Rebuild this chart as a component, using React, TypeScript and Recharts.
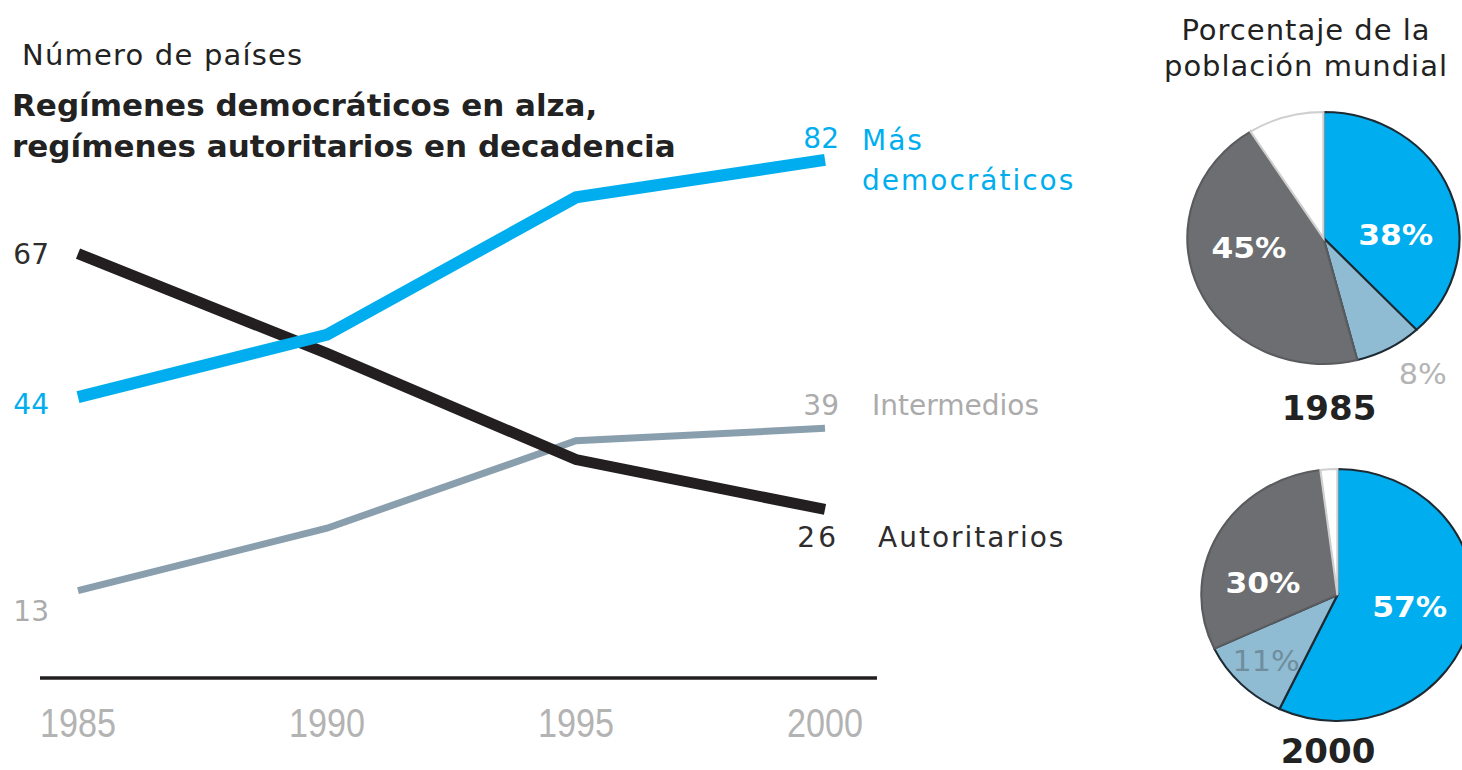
import React from 'react';
import { LineChart, Line, XAxis, YAxis, LabelList, PieChart, Pie, Cell } from 'recharts';

// ---- data ----
const years = ['1985', '1990', '1995', '2000'];
const masDemocraticos = [44, 54, 76, 82];
const intermedios = [13, 23, 37, 39];
const autoritarios = [67, 51, 34, 26];

const pieCategories = ['Más democráticos', 'Intermedios', 'Autoritarios', 'Otros'];
const share1985 = [38, 8, 45, 9];
const share2000 = [57, 11, 30, 2];

const lineData = years.map((y, i) => ({
  year: y,
  dem: masDemocraticos[i],
  inter: intermedios[i],
  aut: autoritarios[i],
}));
const pie1985 = pieCategories.map((n, i) => ({ name: n, value: share1985[i] }));
const pie2000 = pieCategories.map((n, i) => ({ name: n, value: share2000[i] }));

// ---- styles ----
const FONT = '"DejaVu Sans", "Noto Sans", sans-serif';
const NARROW = '"Liberation Sans", "DejaVu Sans Condensed", sans-serif';
const BLUE = '#00AEEF';
const DARK = '#231F20';
const GREYLINE = '#8A9FAD';
const LIGHTTXT = '#ABABAB';

const pieFills = [BLUE, '#8FBCD3', '#6D6E71', '#FFFFFF'];
const pieStrokes = ['#1E2A33', '#1E2A33', '#5A5B5E', '#CFCFCF'];

type SeriesStyle = {
  color: string;
  leftDy: number;
  rightDy: number;
  names: { text: string; dx: number; dy: number; ls: number }[];
  series: number[];
};

const styles: Record<string, SeriesStyle> = {
  dem: {
    color: BLUE,
    leftDy: 17,
    rightDy: -12,
    series: masDemocraticos,
    names: [
      { text: 'Más', dx: 37, dy: -10, ls: 2 },
      { text: 'democráticos', dx: 37, dy: 30, ls: 2 },
    ],
  },
  inter: {
    color: LIGHTTXT,
    leftDy: 30,
    rightDy: -13,
    series: intermedios,
    names: [{ text: 'Intermedios', dx: 47, dy: -13, ls: 0 }],
  },
  aut: {
    color: '#2E2C2D',
    leftDy: 10,
    rightDy: 38,
    series: autoritarios,
    names: [{ text: 'Autoritarios', dx: 53, dy: 38, ls: 2 }],
  },
};

const makeLabel = (key: string) => (props: any) => {
  const st = styles[key];
  const { x, y, value } = props;
  const idx = props.index ?? st.series.indexOf(value);
  if (idx === 0) {
    return (
      <text x={x - 29} y={y + st.leftDy} textAnchor="end" fontFamily={FONT} fontSize={28} fill={st.color}>
        {value}
      </text>
    );
  }
  if (idx === st.series.length - 1) {
    return (
      <g>
        <text x={x + 14} y={y + st.rightDy} textAnchor="end" fontFamily={FONT} fontSize={28} fill={st.color} letterSpacing={key === 'aut' ? 3 : 0}>
          {value}
        </text>
        {st.names.map((n, i) => (
          <text key={i} x={x + n.dx} y={y + n.dy} fontFamily={FONT} fontSize={28} fill={st.color} letterSpacing={n.ls}>
            {n.text}
          </text>
        ))}
      </g>
    );
  }
  return null;
};

const YearTick = (props: any) => {
  const { x, y, payload } = props;
  return (
    <text
      x={x - 38}
      y={y + 59}
      fontFamily={NARROW}
      fontSize={41}
      fill="#B3B3B3"
      textLength={76}
      lengthAdjust="spacingAndGlyphs"
    >
      {payload.value}
    </text>
  );
};

// label offsets from the pie centre (text centre), per slice
const labelPos1985: ([number, number] | null)[] = [[67, -3], [92, 136], [-69, 10], null];
const labelPos2000: ([number, number] | null)[] = [[67, 12], [-66, 66], [-69, -12], null];
const labelColor = ['#FFFFFF', null, '#FFFFFF', null];

const makePieLabel = (pos: ([number, number] | null)[], lightColor: string) => (props: any) => {
  const { cx, cy, index, value } = props;
  const p = pos[index];
  if (!p) return null;
  const c = labelColor[index] ?? lightColor;
  const bold = index !== 1;
  return (
    <text
      x={cx + p[0]}
      y={cy + p[1]}
      textAnchor="middle"
      dominantBaseline="central"
      fontFamily={FONT}
      fontSize={bold ? 29 : 28}
      fontWeight={bold ? 700 : 400}
      fill={c}
    >
      {value}%
    </text>
  );
};

const PIE_SCALE = 'scaleX(1.08)';
const PIE_BOX = 340;
const PIE_C = PIE_BOX / 2;

export default function App() {
  return (
    <div style={{ position: 'fixed', left: 0, top: 0, width: 1462, height: 770, overflow: 'hidden', background: '#fff' }}>
      <div style={{ position: 'absolute', left: 0, top: 0 }}>
        <LineChart width={1120} height={770} data={lineData} margin={{ top: 110, right: 243, bottom: 32, left: 40 }}>
          <XAxis
            dataKey="year"
            scale="point"
            padding={{ left: 38, right: 52 }}
            height={60}
            tickLine={false}
            tickSize={0}
            tickMargin={0}
            axisLine={{ stroke: DARK, strokeWidth: 3.5 }}
            tick={<YearTick />}
            interval={0}
          />
          <YAxis hide domain={[-1, 90]} allowDataOverflow />
          <Line dataKey="inter" stroke={GREYLINE} strokeWidth={7} dot={false} isAnimationActive={false} strokeLinecap="butt">
            <LabelList dataKey="inter" content={makeLabel('inter')} />
          </Line>
          <Line dataKey="aut" stroke={DARK} strokeWidth={11} dot={false} isAnimationActive={false} strokeLinecap="butt">
            <LabelList dataKey="aut" content={makeLabel('aut')} />
          </Line>
          <Line dataKey="dem" stroke={BLUE} strokeWidth={12} dot={false} isAnimationActive={false} strokeLinecap="butt">
            <LabelList dataKey="dem" content={makeLabel('dem')} />
          </Line>
        </LineChart>
      </div>

      <div style={{ position: 'absolute', left: 1318 - PIE_C, top: 233 - PIE_C, transform: PIE_SCALE, transformOrigin: `${PIE_C}px ${PIE_C}px` }}>
        <PieChart width={PIE_BOX} height={PIE_BOX}>
          <Pie
            data={pie1985}
            dataKey="value"
            nameKey="name"
            cx={PIE_C}
            cy={PIE_C}
            outerRadius={126}
            startAngle={90}
            endAngle={-270}
            isAnimationActive={false}
            labelLine={false}
            label={makePieLabel(labelPos1985, '#B4B4B4')}
          >
            {pie1985.map((d, i) => (
              <Cell key={d.name} fill={pieFills[i]} stroke={pieStrokes[i]} strokeWidth={2} />
            ))}
          </Pie>
        </PieChart>
      </div>

      <div style={{ position: 'absolute', left: 1332 - PIE_C, top: 590 - PIE_C, transform: PIE_SCALE, transformOrigin: `${PIE_C}px ${PIE_C}px` }}>
        <PieChart width={PIE_BOX} height={PIE_BOX}>
          <Pie
            data={pie2000}
            dataKey="value"
            nameKey="name"
            cx={PIE_C}
            cy={PIE_C}
            outerRadius={126}
            startAngle={90}
            endAngle={-270}
            isAnimationActive={false}
            labelLine={false}
            label={makePieLabel(labelPos2000, '#6F8D9D')}
          >
            {pie2000.map((d, i) => (
              <Cell key={d.name} fill={pieFills[i]} stroke={pieStrokes[i]} strokeWidth={2} />
            ))}
          </Pie>
        </PieChart>
      </div>

      <svg width={1462} height={770} style={{ position: 'absolute', left: 0, top: 0, pointerEvents: 'none' }}>
        <text x={22} y={65} fontFamily={FONT} fontSize={29} letterSpacing={1.2} fill="#222">
          Número de países
        </text>
        <text x={12} y={116} fontFamily={FONT} fontSize={31} fontWeight={700} fill="#222">
          Regímenes democráticos en alza,
        </text>
        <text x={12} y={157} fontFamily={FONT} fontSize={31} fontWeight={700} fill="#222">
          regímenes autoritarios en decadencia
        </text>
        <text x={1306} y={40} textAnchor="middle" fontFamily={FONT} fontSize={29} letterSpacing={1} fill="#222">
          Porcentaje de la
        </text>
        <text x={1306} y={76} textAnchor="middle" fontFamily={FONT} fontSize={29} letterSpacing={1} fill="#222">
          población mundial
        </text>
        <text x={1329} y={420} textAnchor="middle" fontFamily={FONT} fontSize={34} fontWeight={700} fill="#222">
          1985
        </text>
        <text x={1328} y={763} textAnchor="middle" fontFamily={FONT} fontSize={34} fontWeight={700} fill="#222">
          2000
        </text>
      </svg>
    </div>
  );
}
